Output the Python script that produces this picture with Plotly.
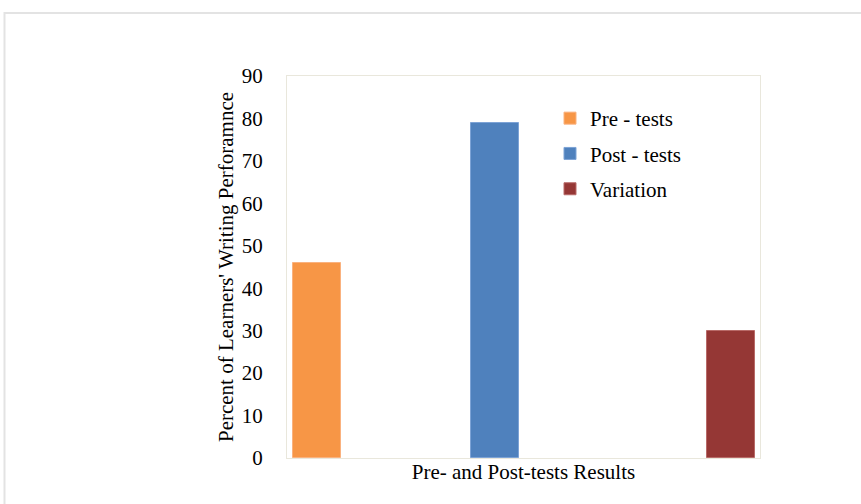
import plotly.graph_objects as go

category = ["Pre- and Post-tests Results"]
series_names = ["Pre - tests", "Post - tests", "Variation"]
series_values = [46, 79, 30]
y_ticks = [0, 10, 20, 30, 40, 50, 60, 70, 80, 90]

colors = ["#F79646", "#4F81BD", "#953735"]
edge_colors = ["#FAB27F", "#7DA3D6", "#B86A68"]
offsets = [-0.487, -0.111, 0.388]
bar_width = 0.102

FONT = "Liberation Serif, Times New Roman, serif"
FS = 21

fig = go.Figure()
for i, (name, val) in enumerate(zip(series_names, series_values)):
    fig.add_trace(go.Bar(
        x=category, y=[val], name=name,
        marker=dict(color=colors[i], line=dict(color=edge_colors[i], width=1)),
        offset=offsets[i], width=bar_width,
        legendgroup=name,
    ))

W, H = 861, 504
L, T = 287, 76
R = W - 760
B = H - 458
pw, ph = W - L - R, H - T - B

def px_x(x):
    return (x - L) / pw

def px_y(y):
    return (H - B - y) / ph

fig.update_layout(
    width=W, height=H,
    margin=dict(l=L, r=R, t=T, b=B),
    paper_bgcolor="white", plot_bgcolor="white",
    font=dict(family=FONT, size=FS, color="black"),
    showlegend=True,
    legend=dict(
        x=px_x(550), y=px_y(98), xanchor="left", yanchor="top",
        bgcolor="rgba(0,0,0,0)", font=dict(family=FONT, size=FS),
        traceorder="grouped", tracegroupgap=5,
    ),
    bargap=0,
    xaxis=dict(
        range=[-0.5, 0.5], showgrid=False, zeroline=False,
        showline=True, linecolor="#E9E7DC", linewidth=1, mirror=True,
        ticks="", tickfont=dict(family=FONT, size=FS), ticklabelstandoff=-5,
    ),
    yaxis=dict(
        range=[0, 90], tickvals=y_ticks, showgrid=False, zeroline=False,
        showline=True, linecolor="#E9E7DC", linewidth=1, mirror=True,
        ticks="", ticklabelstandoff=19, tickfont=dict(family=FONT, size=FS),
        title=dict(text="Percent of Learners' Writing Perforamnce",
                   font=dict(family=FONT, size=FS), standoff=2),
    ),
    shapes=[dict(
        type="rect", xref="paper", yref="paper",
        x0=px_x(4.5), x1=px_x(875),
        y0=px_y(515), y1=px_y(13),
        line=dict(color="#E3E3E3", width=2), layer="below",
    )],
)

fig.write_html("out.html", config={"displayModeBar": False},
               post_script="document.body.style.margin='0';")
